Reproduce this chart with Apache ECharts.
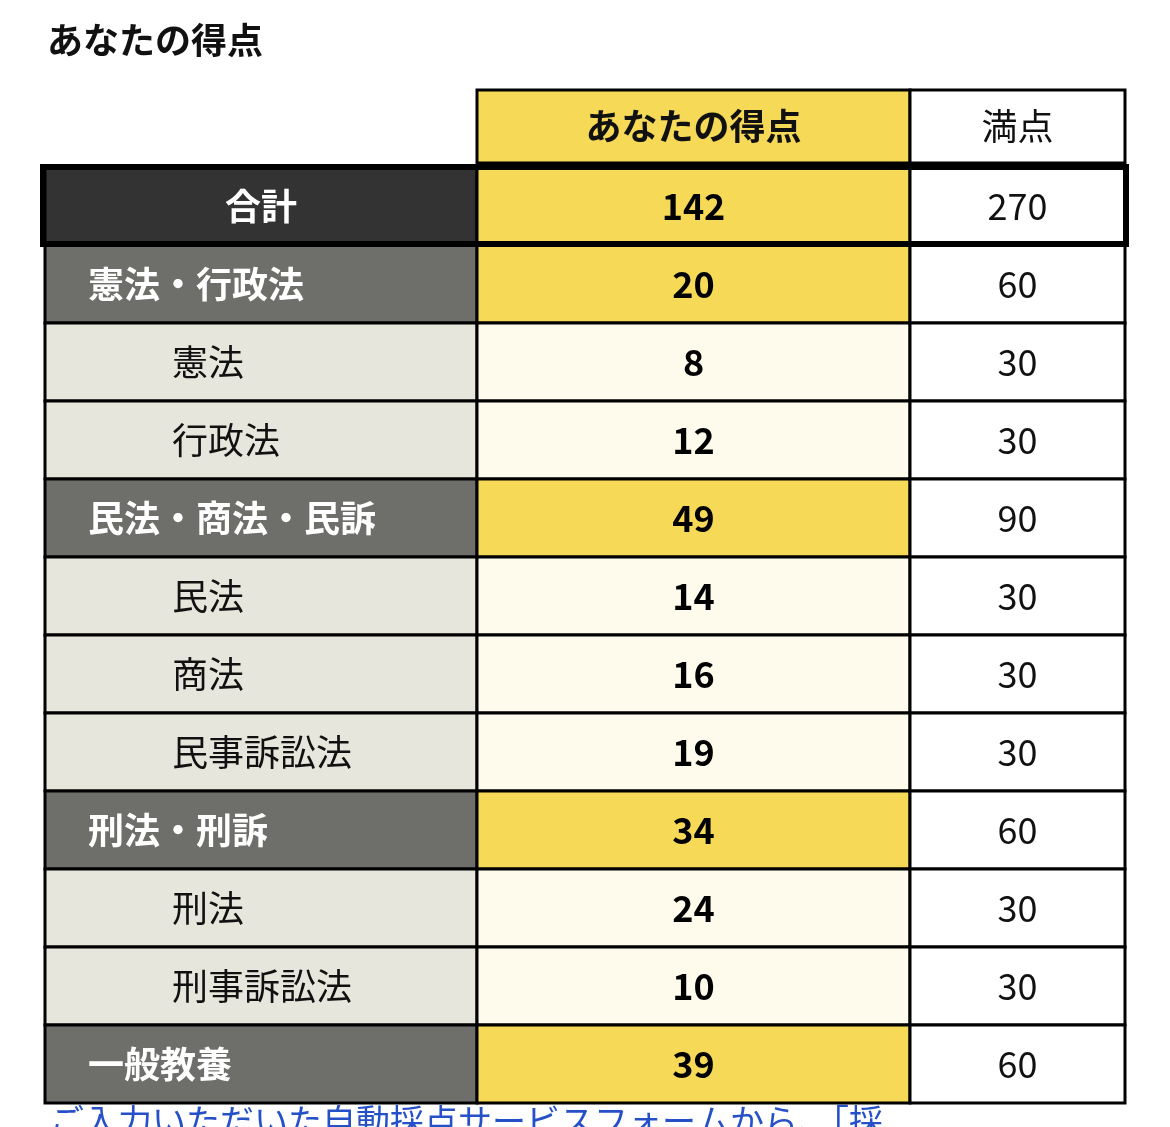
<!DOCTYPE html>
<html><head><meta charset="utf-8">
<script src="https://cdn.jsdelivr.net/npm/echarts@6/dist/echarts.min.js"></script>
<style>html,body{margin:0;padding:0;background:#fff}#c{width:1170px;height:1127px}</style>
</head><body><div id="c"></div>
<script>
const title = 'あなたの得点';
const headers = ['', 'あなたの得点', '満点'];
const rows = ['合計','憲法・行政法','憲法','行政法','民法・商法・民訴','民法','商法','民事訴訟法','刑法・刑訴','刑法','刑事訴訟法','一般教養'];
const levels = [0,1,2,2,1,2,2,2,1,2,2,1];
const scores = [142,20,8,12,49,14,16,19,34,24,10,39];
const maxes = [270,60,30,30,90,30,30,30,60,30,30,60];
const footer = 'ご入力いただいた自動採点サービスフォームから、「採';

const FONT = '"Noto Sans CJK JP", "Noto Sans", sans-serif';
const chart = echarts.init(document.getElementById('c'));
const cols = [{left:45,width:432},{left:477,width:433},{left:910,width:215}];
const grids = [], xAxes = [], yAxes = [], series = [];
const idxs = rows.map((r,i)=>i);

function cellStyle(col, i){
  const lv = levels[i];
  if(col===0){
    if(lv===0) return {fill:'#333333', color:'#fff', weight:'bold', align:'center'};
    if(lv===1) return {fill:'#6e6e6a', color:'#fff', weight:'bold', align:'left', pad:43};
    return {fill:'#e6e6dc', color:'#111', weight:'normal', align:'left', pad:127};
  }
  if(col===1){
    if(lv===2) return {fill:'#fffbec', color:'#000', weight:'bold', align:'center'};
    return {fill:'#f5d957', color:'#000', weight:'bold', align:'center'};
  }
  return {fill:'#ffffff', color:'#111', weight:'normal', align:'center'};
}

cols.forEach((c,ci)=>{
  // header grid
  grids.push({left:c.left, width:c.width, top:90, height:73});
  const hg = grids.length-1;
  xAxes.push({type:'category', gridIndex:hg, data:['h'], show:false});
  yAxes.push({type:'category', gridIndex:hg, data:['h'], show:false});
  if(ci>0){
    series.push({type:'custom', xAxisIndex:hg, yAxisIndex:hg, data:[[0,0]],
      renderItem(params, api){
        const p = api.coord([0,0]); const s = api.size([1,1]);
        return {type:'group', children:[
          {type:'rect', shape:{x:p[0]-s[0]/2, y:p[1]-s[1]/2, width:s[0], height:s[1]},
           style:{fill: ci===1?'#f5d957':'#fff', stroke:'#000', lineWidth:3}},
          {type:'text', style:{x:p[0], y:p[1], text:headers[ci], align:'center', verticalAlign:'middle',
           fontSize:36, fontWeight: ci===1?'bold':'normal', fill:'#111', fontFamily:FONT}}
        ]};
      }});
  }
  // body grid
  grids.push({left:c.left, width:c.width, top:167, height:936});
  const bg = grids.length-1;
  xAxes.push({type:'category', gridIndex:bg, data:['v'], show:false});
  yAxes.push({type:'category', gridIndex:bg, data:idxs, inverse:true, show:false});
  series.push({type:'custom', xAxisIndex:bg, yAxisIndex:bg,
    data: idxs.map(i=>[0,i]),
    renderItem(params, api){
      const i = api.value(1);
      const p = api.coord([0,i]); const s = api.size([1,1]);
      const st = cellStyle(ci,i);
      const x0 = p[0]-s[0]/2;
      const txt = ci===0 ? rows[i] : String(ci===1 ? scores[i] : maxes[i]);
      return {type:'group', children:[
        {type:'rect', shape:{x:x0, y:p[1]-s[1]/2, width:s[0], height:s[1]},
         style:{fill:st.fill, stroke:'#000', lineWidth:3}},
        {type:'text', style:{x: st.align==='left'? x0+st.pad : p[0], y:p[1], text:txt,
          align:st.align, verticalAlign:'middle', fontSize:36, fontWeight:st.weight,
          fill:st.color, fontFamily:FONT}}
      ]};
    }});
});

chart.setOption({
  animation:false,
  grid:grids, xAxis:xAxes, yAxis:yAxes, series:series,
  graphic:[
    {type:'text', left:47, top:22, style:{text:title, fontSize:36, fontWeight:'bold', fill:'#111', fontFamily:FONT}},
    {type:'rect', z:100, shape:{x:43, y:167, width:1083, height:77}, style:{fill:null, stroke:'#000', lineWidth:6}},
    {type:'text', left:50, top:1104, style:{text:footer, fontSize:34, fill:'#2550c8', fontFamily:FONT}}
  ]
});
</script></body></html>
